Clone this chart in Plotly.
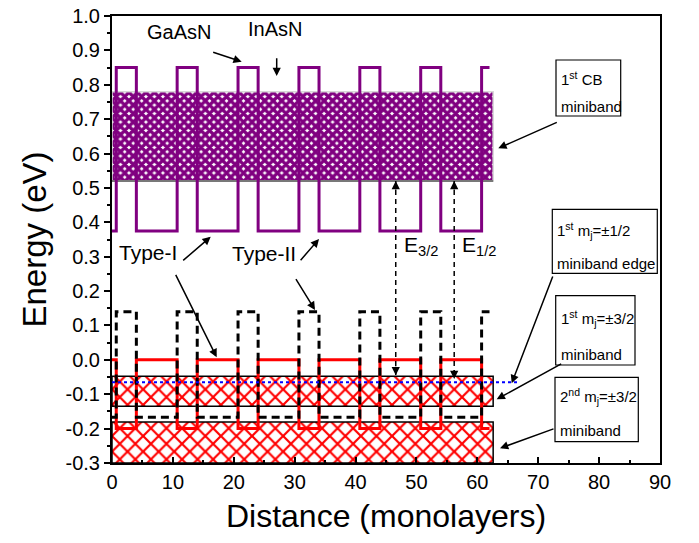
import plotly.graph_objects as go

# ---------------- data ----------------
barrier_start = [0.7, 10.7, 20.7, 30.7, 40.7, 50.7, 60.7]
barrier_end = [4.0, 14.0, 24.0, 34.0, 44.0, 54.0, 62.0]
cb_well, cb_barrier = 0.375, 0.85          # conduction band profile
t1_well, t1_barrier = 0.0, -0.2            # Type-I valence profile
t2_well, t2_barrier = -0.167, 0.14         # Type-II valence profile
cb_miniband = [0.52, 0.78]
hh1_miniband = [-0.135, -0.048]
hh2_miniband = [-0.3, -0.181]
lh1_edge = -0.065
miniband_end = 62.6
lh1_end = 66.7
e32_x, e32_low = 46.6, -0.045
e12_x, e12_low = 56.2, -0.056
xtick_vals = [0, 10, 20, 30, 40, 50, 60, 70, 80, 90]
ytick_vals = [1.0, 0.9, 0.8, 0.7, 0.6, 0.5, 0.4, 0.3, 0.2, 0.1, 0.0, -0.1, -0.2, -0.3]
ytick_text = ["1.0", "0.9", "0.8", "0.7", "0.6", "0.5", "0.4", "0.3", "0.2", "0.1",
              "0.0", "-0.1", "-0.2", "-0.3"]

FONT = "Liberation Sans, Arial, sans-serif"
PURPLE = "#800080"
RED = "#ff0000"

# plot-area pixel geometry (for placing annotations)
L, R, T, B = 112, 660, 16, 463
W, H = 699, 543


def px(xp):
    return (xp - L) / (R - L) * 90.0


def py(yp):
    return 1.0 - (yp - T) / (B - T) * 1.3


def profile(well, barrier):
    xs, ys = [0.0], [well]
    n = len(barrier_start)
    for i, (s, e) in enumerate(zip(barrier_start, barrier_end)):
        xs += [s, s, e]
        ys += [well, barrier, barrier]
        if i < n - 1:
            xs.append(e)
            ys.append(well)
    return xs, ys


def rect(lo, hi, x1):
    return [0, x1, x1, 0, 0], [lo, lo, hi, hi, lo]


fig = go.Figure()

# hatched minibands
rx, ry = rect(cb_miniband[0], cb_miniband[1], miniband_end)
fig.add_trace(go.Scatter(x=rx, y=ry, mode="lines", fill="toself",
                         line=dict(color="rgb(215,215,215)", width=1.5),
                         fillcolor="white",
                         fillpattern=dict(shape="x", fgcolor=PURPLE, bgcolor="white",
                                          size=6, solidity=0.8, fillmode="replace"),
                         showlegend=False, hoverinfo="skip"))
fig.add_trace(go.Scatter(x=[0, miniband_end], y=[cb_miniband[0], cb_miniband[0]],
                         mode="lines", line=dict(color="rgb(120,120,120)", width=2),
                         showlegend=False, hoverinfo="skip"))
for band in (hh1_miniband, hh2_miniband):
    rx, ry = rect(band[0], band[1], miniband_end)
    fig.add_trace(go.Scatter(x=rx, y=ry, mode="lines", fill="toself",
                             line=dict(color="black", width=1.5),
                             fillcolor="white",
                             fillpattern=dict(shape="x", fgcolor=RED, bgcolor="white",
                                              size=11, solidity=0.36, fillmode="replace"),
                             showlegend=False, hoverinfo="skip"))

# band profiles
x, y = profile(cb_well, cb_barrier)
fig.add_trace(go.Scatter(x=x, y=y, mode="lines", line=dict(color=PURPLE, width=3),
                         showlegend=False, hoverinfo="skip"))
x, y = profile(t1_well, t1_barrier)
fig.add_trace(go.Scatter(x=x, y=y, mode="lines", line=dict(color=RED, width=3),
                         showlegend=False, hoverinfo="skip"))
x, y = profile(t2_well, t2_barrier)
fig.add_trace(go.Scatter(x=x, y=y, mode="lines",
                         line=dict(color="black", width=3, dash="8px,5px"),
                         showlegend=False, hoverinfo="skip"))

# light-hole miniband edge
fig.add_trace(go.Scatter(x=[0, lh1_end], y=[lh1_edge, lh1_edge], mode="lines",
                         line=dict(color="blue", width=2, dash="dot"),
                         showlegend=False, hoverinfo="skip"))

# transition arrows (dashed)
for ex, elow in ((e32_x, e32_low), (e12_x, e12_low)):
    fig.add_trace(go.Scatter(x=[ex, ex], y=[cb_miniband[0], elow], mode="lines",
                             line=dict(color="black", width=1.5, dash="5px,4px"),
                             showlegend=False, hoverinfo="skip"))

annotations = []


def arrow(tx, ty, hx, hy):
    annotations.append(dict(x=px(hx), y=py(hy), ax=px(tx), ay=py(ty),
                            xref="x", yref="y", axref="x", ayref="y",
                            text="", showarrow=True, arrowhead=2, arrowsize=1.1,
                            arrowwidth=1.5, arrowcolor="black"))


def head(ex, ey, up):
    annotations.append(dict(x=ex, y=ey, ax=0, ay=(10 if up else -10),
                            xref="x", yref="y", text="", showarrow=True,
                            arrowhead=2, arrowsize=1.1, arrowwidth=1.5,
                            arrowcolor="black"))


for ex, elow in ((e32_x, e32_low), (e12_x, e12_low)):
    head(ex, elow, False)
    head(ex, cb_miniband[0], True)


def label(text, xp, yp, size, xanchor="center"):
    annotations.append(dict(x=px(xp), y=py(yp), xref="x", yref="y", text=text,
                            showarrow=False, xanchor=xanchor, yanchor="middle",
                            font=dict(family=FONT, size=size, color="black")))


label("GaAsN", 179, 32, 20)
label("InAsN", 275, 29, 20)
arrow(211.7, 51.7, 241.7, 61.7)
arrow(276.7, 56.7, 276.7, 76)

label("Type-I", 148, 252, 21)
label("Type-II", 263.5, 253, 21)
arrow(181.7, 261.7, 210.7, 236.7)
arrow(175, 273.3, 216.7, 357.3)
arrow(299.3, 261.7, 319, 239)
arrow(295, 277.7, 315, 310)

label("E<sub>3/2</sub>", 402, 246, 21, "left")
label("E<sub>1/2</sub>", 460, 246, 21, "left")

# boxes
boxes = [
    (556, 60, 620.7, 116, ["1<sup>st</sup> CB", "miniband"], [78, 106]),
    (552.3, 209.3, 657.3, 273.3, ["1<sup>st</sup> m<sub>j</sub>=±1/2", "miniband edge"], [230, 263]),
    (555.7, 295.7, 635, 365, ["1<sup>st</sup> m<sub>j</sub>=±3/2", "miniband"], [318, 354]),
    (555, 377.3, 638.3, 441.7, ["2<sup>nd</sup> m<sub>j</sub>=±3/2", "miniband"], [396, 430]),
]
shapes = []
for x0, y0, x1, y1, texts, ys in boxes:
    shapes.append(dict(type="rect", xref="x", yref="y", x0=px(x0), x1=px(x1),
                       y0=py(y0), y1=py(y1), line=dict(color="black", width=1.2),
                       fillcolor="white", layer="above"))
    for t, yy in zip(texts, ys):
        label(t, x0 + 3, yy, 15, "left")

arrow(558.3, 121.7, 498.3, 148.3)
arrow(553.3, 275, 511.7, 383.3)
arrow(562.7, 363, 496.7, 399.3)
arrow(555, 428.3, 500, 448.3)

fig.update_layout(
    width=W, height=H,
    margin=dict(l=L, r=W - R, t=T, b=H - B, autoexpand=False),
    plot_bgcolor="white", paper_bgcolor="white",
    font=dict(family=FONT, color="black"),
    shapes=shapes, annotations=annotations,
    showlegend=False,
)
fig.update_xaxes(range=[0, 90], tickvals=xtick_vals, ticks="inside", ticklen=6,
                 tickwidth=1.5, tickcolor="black", automargin=False,
                 minor=dict(ticks="inside", dtick=5, ticklen=3, tickwidth=1.5, tickcolor="black"),
                 showgrid=False, zeroline=False, showline=True, linecolor="black",
                 linewidth=2, mirror=True,
                 tickfont=dict(family=FONT, size=20),
                 title=dict(text="Distance (monolayers)", font=dict(family=FONT, size=32),
                            standoff=13))
fig.update_yaxes(range=[-0.3, 1.0], tickvals=ytick_vals, ticktext=ytick_text,
                 ticks="outside", ticklen=6, tickwidth=1.5, tickcolor="black", automargin=False,
                 minor=dict(ticks="outside", dtick=0.05, ticklen=3, tickwidth=1.5, tickcolor="black"),
                 showgrid=False, zeroline=False, showline=True, linecolor="black",
                 linewidth=2, mirror=True,
                 tickfont=dict(family=FONT, size=20),
                 title=dict(text="Energy (eV)", font=dict(family=FONT, size=33),
                            standoff=9))

fig.write_html("out.html", config={"displayModeBar": False},
               post_script="document.body.style.margin='0px';document.body.style.overflow='hidden';")
